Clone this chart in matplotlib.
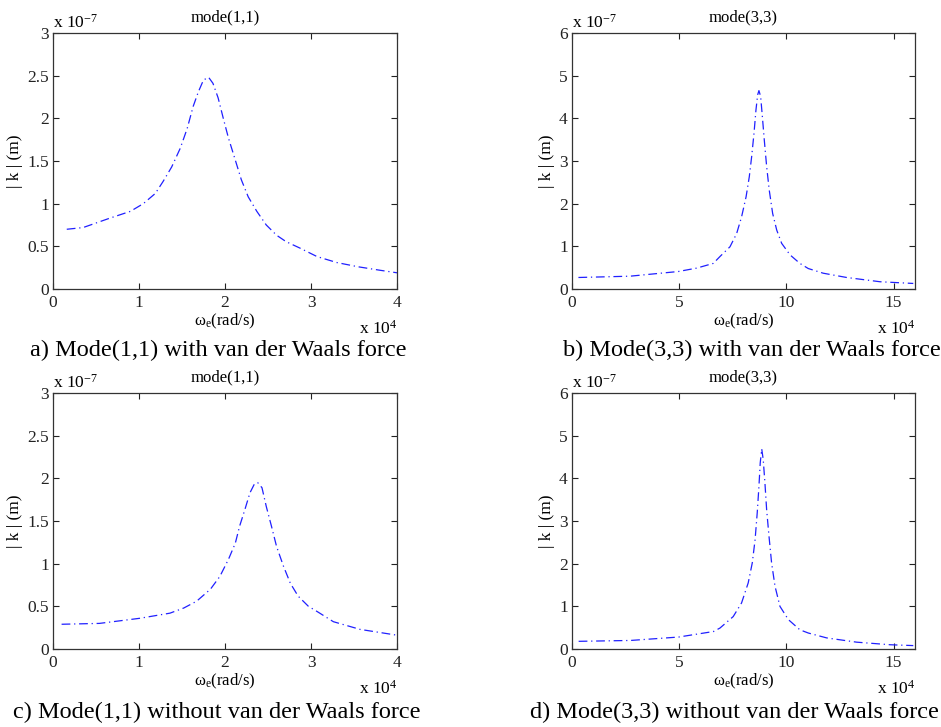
import matplotlib
matplotlib.use("Agg")
import matplotlib.pyplot as plt

plt.rcParams['font.family'] = ['Liberation Serif', 'DejaVu Serif']
plt.rcParams['mathtext.fontset'] = 'custom'
plt.rcParams['mathtext.rm'] = 'Liberation Serif'
plt.rcParams['mathtext.it'] = 'Liberation Serif:italic'

# frequency in units of 1e4 rad/s, amplitude |k| in units of 1e-7 m
# a) mode(1,1) with van der Waals force
w_a = [0.16, 0.35, 0.66, 0.90, 1.05, 1.19, 1.28, 1.38, 1.48, 1.56, 1.63, 1.69,
       1.75, 1.81, 1.86, 1.92, 1.98, 2.04, 2.12, 2.19, 2.27, 2.37, 2.48, 2.60,
       2.71, 2.87, 3.07, 3.30, 3.55, 3.80, 4.00]
k_a = [0.70, 0.72, 0.83, 0.91, 1.00, 1.12, 1.26, 1.43, 1.65, 1.88, 2.14, 2.31,
       2.45, 2.48, 2.41, 2.24, 2.00, 1.77, 1.51, 1.28, 1.08, 0.91, 0.75, 0.63,
       0.555, 0.48, 0.38, 0.31, 0.26, 0.22, 0.19]

# b) mode(3,3) with van der Waals force
w_b = [0.30, 2.70, 4.96, 5.82, 6.59, 6.90, 7.37, 7.68, 7.91, 8.12, 8.27, 8.38,
       8.49, 8.58, 8.66, 8.72, 8.80, 8.88, 8.97, 9.08, 9.20, 9.36, 9.55, 9.78,
       10.17, 10.63, 11.02, 11.72, 12.81, 14.37, 15.92]
k_b = [0.27, 0.30, 0.41, 0.49, 0.60, 0.76, 0.99, 1.30, 1.69, 2.16, 2.63, 3.10,
       3.65, 4.19, 4.55, 4.65, 4.51, 4.04, 3.49, 2.87, 2.32, 1.77, 1.38, 1.07,
       0.80, 0.60, 0.48, 0.37, 0.27, 0.17, 0.13]

# c) mode(1,1) without van der Waals force
w_c = [0.10, 0.54, 1.01, 1.36, 1.52, 1.67, 1.83, 1.94, 2.04, 2.12, 2.17, 2.23,
       2.29, 2.34, 2.38, 2.43, 2.48, 2.54, 2.60, 2.68, 2.76, 2.85, 2.97, 3.07,
       3.26, 3.57, 3.98]
k_c = [0.29, 0.30, 0.36, 0.42, 0.48, 0.56, 0.70, 0.85, 1.05, 1.24, 1.44, 1.63,
       1.83, 1.93, 1.95, 1.89, 1.67, 1.44, 1.20, 0.97, 0.77, 0.62, 0.50, 0.44,
       0.32, 0.23, 0.165]

# d) mode(3,3) without van der Waals force
w_d = [0.31, 2.72, 4.97, 6.60, 6.90, 7.52, 7.91, 8.22, 8.41, 8.54, 8.64, 8.72,
       8.78, 8.85, 8.92, 9.00, 9.08, 9.19, 9.31, 9.47, 9.70, 10.09, 10.63, 11.02,
       11.88, 13.28, 14.83, 15.92]
k_d = [0.18, 0.20, 0.28, 0.41, 0.49, 0.76, 1.08, 1.55, 2.02, 2.56, 3.19, 3.81,
       4.36, 4.69, 4.44, 3.89, 3.26, 2.64, 2.02, 1.47, 1.00, 0.69, 0.45, 0.375,
       0.26, 0.16, 0.10, 0.08]

titles = ["mode(1,1)", "mode(3,3)", "mode(1,1)", "mode(3,3)"]
captions = ["a) Mode(1,1) with van der Waals force",
            "b) Mode(3,3) with van der Waals force",
            "c) Mode(1,1) without van der Waals force",
            "d) Mode(3,3) without van der Waals force"]
xlims = [4, 16, 4, 16]
ylims = [3, 6, 3, 6]
xticks = [[0, 1, 2, 3, 4], [0, 5, 10, 15], [0, 1, 2, 3, 4], [0, 5, 10, 15]]
yticks = [[0, 0.5, 1, 1.5, 2, 2.5, 3], [0, 1, 2, 3, 4, 5, 6],
          [0, 0.5, 1, 1.5, 2, 2.5, 3], [0, 1, 2, 3, 4, 5, 6]]

W, H = 941, 727
fig = plt.figure(figsize=(W / 100, H / 100), dpi=100)

# axes boxes in pixels: left, top, right, bottom
boxes = [(53, 33, 397, 289), (572, 33, 915, 289),
         (53, 393, 397, 649), (572, 393, 915, 649)]
caption_pos = [(218, 350), (752, 350), (217, 712), (734, 712)]

series = [(w_a, k_a), (w_b, k_b), (w_c, k_c), (w_d, k_d)]

for i in range(4):
    l, t, r, b = boxes[i]
    ax = fig.add_axes([l / W, 1 - b / H, (r - l) / W, (b - t) / H])
    w, k = series[i]
    ax.plot(w, k, color='#2020ff', linestyle=(0, (7, 3, 1, 3)), linewidth=0.9)
    ax.set_xlim(0, xlims[i])
    ax.set_ylim(0, ylims[i])
    ax.set_xticks(xticks[i])
    ax.set_yticks(yticks[i])
    ax.set_xticklabels([str(v) for v in xticks[i]])
    ax.set_yticklabels([('%g' % v) for v in yticks[i]])
    ax.tick_params(direction='in', top=True, right=True, length=4, width=0.8,
                   labelsize=12.5, colors='#222222', pad=3)
    ax.tick_params(axis='x', pad=4)
    for s in ax.spines.values():
        s.set_linewidth(0.9)
        s.set_color('#333333')
    ax.set_title(titles[i], fontsize=12, pad=8)
    ax.set_ylabel("| k | (m)", fontsize=12.5, labelpad=3)
    ax.set_xlabel("ω$_{\\mathrm{e}}$(rad/s)", fontsize=12, labelpad=1)
    # MATLAB-style exponent labels
    ax.text(0.0, 1.005, "x 10$^{\\mathrm{-7}}$", transform=ax.transAxes,
            fontsize=12.5, ha='left', va='bottom')
    ax.text(1.0, -0.12, "x 10$^{\\mathrm{4}}$", transform=ax.transAxes,
            fontsize=12.5, ha='right', va='top')
    cx, cy = caption_pos[i]
    fig.text(cx / W, 1 - cy / H, captions[i], fontsize=17.5,
             ha='center', va='center')

fig.savefig("out.png", dpi=100)
